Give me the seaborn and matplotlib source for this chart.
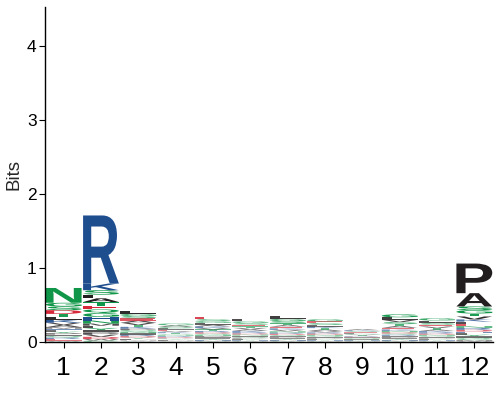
import matplotlib
matplotlib.use("Agg")
import matplotlib.pyplot as plt
import seaborn as sns
from matplotlib.textpath import TextPath
from matplotlib.patches import PathPatch
from matplotlib.font_manager import FontProperties
from matplotlib.transforms import Affine2D

#
# Data: letters and their heights (bits) at each position
#

positions = [1, 2, 3, 4, 5, 6, 7, 8, 9, 10, 11, 12]

pos_letters = [
    "NDSGKLTAVERQIPYFHMWC",
    "RKSHGQETNADLVPIYFMCW",
    "LVAESGKTDRINQPFYHMCW",
    "GSAELTKVDRNQIPFYHMCW",
    "ELGSKATVDRNQIPYFHMCW",
    "LGESAVTKDRNQIPFYHMCW",
    "LGSTEAVKNDRQIPYFHMCW",
    "GESLATKVDRNQIPFYHMCW",
    "AKESGLTVDRNQIPFYHMCW",
    "GLVSTAEKDNRQIPYFHMCW",
    "GLSEVATKDRNQIPFYHMCW",
    "PAVSGTELKDRNQIYFHMCW",
]

pos_heights = [
    [.20, .05, .05, .05, .04, .04, .04, .03, .03, .02, .02, .02, .02, .02, .02, .02, .02, .02, .01, .01],
    [.92, .09, .06, .05, .05, .05, .05, .05, .04, .05, .03, .05, .03, .03, .03, .03, .03, .03, .02, .02],
    [.04, .03, .03, .03, .03, .03, .025, .025, .02, .02, .02, .02, .02, .02, .015, .015, .01, .01, .005, .005],
    [.025, .02, .02, .018, .018, .015, .015, .015, .012, .012, .012, .012, .01, .01, .008, .008, .006, .006, .004, .004],
    [.035, .025, .025, .025, .022, .022, .02, .02, .018, .018, .016, .016, .014, .014, .012, .012, .01, .008, .006, .005],
    [.03, .025, .022, .022, .02, .02, .02, .018, .016, .016, .015, .014, .014, .013, .012, .01, .008, .006, .005, .004],
    [.035, .03, .028, .025, .022, .022, .02, .02, .018, .016, .016, .015, .014, .013, .012, .012, .01, .008, .006, .005],
    [.028, .025, .024, .022, .02, .02, .02, .018, .016, .016, .015, .014, .013, .012, .011, .01, .008, .006, .005, .004],
    [.015, .013, .012, .012, .011, .011, .01, .01, .009, .009, .008, .008, .008, .007, .007, .006, .006, .005, .004, .003],
    [.04, .035, .03, .028, .025, .024, .022, .02, .018, .018, .016, .016, .015, .014, .012, .012, .01, .008, .006, .005],
    [.032, .03, .026, .024, .022, .02, .02, .018, .016, .016, .015, .014, .013, .012, .011, .01, .008, .006, .005, .004],
    [.40, .18, .04, .05, .045, .04, .03, .03, .03, .025, .025, .025, .02, .02, .02, .02, .02, .015, .015, .01],
]

# chemistry colour scheme
chem_colors = {}
for a in "GSTYCNQ":
    chem_colors[a] = "#109648"
for a in "KRH":
    chem_colors[a] = "#1F4E8F"
for a in "DE":
    chem_colors[a] = "#D62839"
for a in "PAWFLIMV":
    chem_colors[a] = "#221E1F"

#
# Plot
#

sns.set_theme(style="ticks")
plt.rcParams['font.family'] = ['Liberation Sans', 'DejaVu Sans']

fig = plt.figure(figsize=(5, 4), dpi=100)
ax = fig.add_axes([0.09, 0.145, 0.896, 0.838])

glyph_font = FontProperties(family="Liberation Sans", weight="bold")
col_width = 0.96


def draw_letter(ax, letter, x, y0, h, color):
    tp = TextPath((0, 0), letter, size=1, prop=glyph_font)
    bb = tp.get_extents()
    tr = (Affine2D()
          .translate(-bb.x0, -bb.y0)
          .scale(col_width / bb.width, h / bb.height)
          .translate(x - col_width / 2, y0))
    path = tr.transform_path(tp)
    # thin letters render washed out in the original
    alpha = min(1.0, 0.3 + h * 16)
    ax.add_patch(PathPatch(path, facecolor=color, edgecolor="none", lw=0, alpha=alpha))


for pos, lets, hts in zip(positions, pos_letters, pos_heights):
    # smallest at the bottom, biggest on top
    pairs = sorted(zip(lets, hts), key=lambda p: p[1])
    base = 0.0
    for let, h in pairs:
        draw_letter(ax, let, pos, base, h, chem_colors[let])
        base += h

ax.set_xlim(0.5, 12.5)
ax.set_ylim(0, 4.53)
ax.set_xticks(positions)
ax.set_xticklabels([str(p) for p in positions], fontsize=19)
ax.set_yticks([0, 1, 2, 3, 4])
ax.tick_params(axis='y', labelsize=12.5, length=4, width=0.8, colors='black', pad=2)
ax.tick_params(axis='x', length=4, width=0.8, colors='black', pad=6)
ax.set_ylabel('Bits', fontsize=13.5, labelpad=3)
ax.set_xlabel('')
for s in ['left', 'bottom']:
    ax.spines[s].set_color('black')
    ax.spines[s].set_linewidth(1)
sns.despine(ax=ax)

plt.savefig('out.png', dpi=100)
